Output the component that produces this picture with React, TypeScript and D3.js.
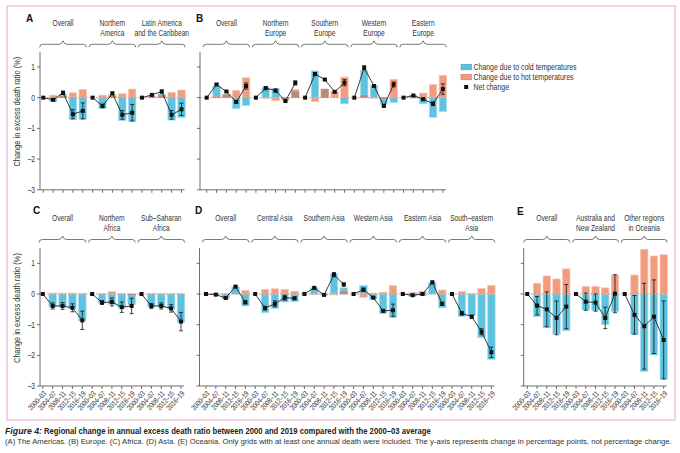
import React, { useLayoutEffect, useRef, useState } from "react";
import * as d3 from "d3";

const periods = ["2000–03", "2004–07", "2008–11", "2012–15", "2016–19"];
const yTicks = [1, 0, -1, -2, -3];

// (A) The Americas
const americasGroups = [["Overall"], ["Northern", "America"], ["Latin America", "and the Caribbean"]];
const americasCold = [0, -0.13, 0.12, -0.71, -0.71, 0, -0.35, 0.05, -0.75, -0.78, 0, 0.03, 0.12, -0.73, -0.64];
const americasHot = [0, 0.08, 0.05, 0.16, 0.27, 0, 0.08, 0.09, 0.13, 0.28, 0, 0.06, 0.08, 0.17, 0.25];
const americasNet = [0, -0.07, 0.16, -0.54, -0.43, 0, -0.27, 0.14, -0.56, -0.49, 0, 0.09, 0.2, -0.56, -0.38];
const americasErr = [0, 0.03, 0.05, 0.15, 0.26, 0, 0.06, 0.04, 0.14, 0.27, 0, 0.03, 0.05, 0.14, 0.2];

// (B) Europe
const europeGroups = [["Overall"], ["Northern", "Europe"], ["Southern", "Europe"], ["Western", "Europe"], ["Eastern", "Europe"]];
const europeCold = [0, 0.38, 0.1, -0.36, -0.25, 0, 0.34, 0.3, -0.03, 0.2, 0, 0.87, 0.28, 0.0, -0.2, 0, 0.88, 0.41, -0.22, -0.16, 0, -0.01, -0.2, -0.64, -0.45];
const europeHot = [0, 0.04, 0.1, 0.24, 0.65, 0, -0.02, -0.1, -0.08, 0.27, 0, -0.13, 0.28, 0.2, 0.67, 0, 0.08, -0.02, -0.05, 0.6, 0, 0.08, 0.15, 0.43, 0.73];
const europeNet = [0, 0.43, 0.2, -0.14, 0.38, 0, 0.31, 0.23, -0.11, 0.48, 0, 0.77, 0.59, 0.19, 0.49, 0, 0.97, 0.38, -0.27, 0.43, 0, 0.07, -0.05, -0.2, 0.28];
const europeErr = [0, 0.03, 0.03, 0.04, 0.1, 0, 0.05, 0.05, 0.03, 0.07, 0, 0.05, 0.03, 0.03, 0.1, 0, 0.07, 0.04, 0.03, 0.08, 0, 0.02, 0.03, 0.06, 0.17];

// (C) Africa
const africaGroups = [["Overall"], ["Northern", "Africa"], ["Sub–Saharan", "Africa"]];
const africaCold = [0, -0.42, -0.42, -0.48, -0.88, 0, -0.3, -0.34, -0.45, -0.35, 0, -0.42, -0.42, -0.49, -0.93];
const africaHot = [0, 0.03, 0.03, 0.03, 0.02, 0, 0.01, 0.08, 0.02, -0.05, 0, 0.02, 0.02, 0.02, 0.02];
const africaNet = [0, -0.39, -0.39, -0.45, -0.86, 0, -0.28, -0.26, -0.43, -0.39, 0, -0.39, -0.39, -0.47, -0.9];
const africaErr = [0, 0.1, 0.11, 0.13, 0.3, 0, 0.06, 0.13, 0.17, 0.25, 0, 0.08, 0.1, 0.12, 0.3];

// (D) Asia
const asiaGroups = [["Overall"], ["Central Asia"], ["Southern Asia"], ["Western Asia"], ["Eastern Asia"], ["South–eastern", "Asia"]];
const asiaCold = [0, -0.02, -0.15, 0.23, -0.39, 0, -0.61, -0.47, -0.26, -0.25, 0, 0.2, -0.04, 0.66, 0.2, 0, 0.28, -0.17, -0.64, -0.77, 0, -0.08, -0.05, 0.37, -0.45, 0, -0.74, -0.71, -1.42, -2.13];
const asiaHot = [0, 0.01, 0.02, 0.02, 0.12, 0, 0.15, 0.17, 0.15, 0.09, 0, -0.02, 0.01, -0.03, 0.1, 0, -0.11, 0.03, 0.06, 0.27, 0, 0.06, 0.09, 0.0, 0.13, 0, 0.08, 0.01, 0.18, 0.28];
const asiaNet = [0, -0.02, -0.13, 0.24, -0.27, 0, -0.46, -0.32, -0.12, -0.14, 0, 0.2, -0.03, 0.63, 0.31, 0, 0.14, -0.12, -0.55, -0.53, 0, -0.04, 0.0, 0.38, -0.32, 0, -0.63, -0.74, -1.23, -1.9];
const asiaErr = [0, 0.01, 0.02, 0.03, 0.05, 0, 0.06, 0.1, 0.08, 0.04, 0, 0.02, 0.02, 0.07, 0.05, 0, 0.05, 0.02, 0.03, 0.2, 0, 0.02, 0.02, 0.04, 0.05, 0, 0.05, 0.05, 0.1, 0.17];

// (E) Oceania
const oceaniaGroups = [["Overall"], ["Australia and", "New Zealand"], ["Other regions", "in Oceania"]];
const oceaniaCold = [0, -0.74, -1.1, -1.31, -1.2, 0, -0.52, -0.54, -0.99, -0.58, 0, -1.32, -2.53, -1.99, -2.78];
const oceaniaHot = [0, 0.35, 0.59, 0.49, 0.82, 0, 0.25, 0.25, 0.2, 0.62, 0, 0.62, 1.46, 1.24, 1.28];
const oceaniaNet = [0, -0.38, -0.5, -0.78, -0.41, 0, -0.25, -0.28, -0.78, 0.01, 0, -0.68, -1.05, -0.74, -1.5];
const oceaniaErr = [0, 0.3, 0.57, 0.55, 0.72, 0, 0.28, 0.28, 0.35, 0.62, 0, 0.63, 1.4, 1.2, 1.27];

const legendLabels = ["Change due to cold temperatures", "Change due to hot temperatures", "Net change"];
const captionTitle = "Figure 4:";
const captionLine1 = "Regional change in annual excess death ratio between 2000 and 2019 compared with the 2000–03 average";
const captionLine2 = "(A) The Americas. (B) Europe. (C) Africa. (D) Asia. (E) Oceania. Only grids with at least one annual death were included. The y-axis represents change in percentage points, not percentage change.";
const yTitle = "Change in excess death ratio (%)";

const COLD = "#5dc3df";
const COLD_EDGE = "#a9dcec";
const HOT = "#f39b7f";
const HOT_EDGE = "#f8c6b5";
const BOTH = "#b88c78";
const AXIS = "#4a4a4a";
const FONT = "'Liberation Sans', Arial, sans-serif";
const SX = 0.8; // horizontal compression to mimic a condensed face

type TProps = {
  x: number; y: number; size: number; anchor?: "start" | "middle" | "end";
  rotate?: number; weight?: string; italic?: boolean; fill?: string; children: React.ReactNode; sx?: number;
};

function T({ x, y, size, anchor = "start", rotate = 0, weight = "normal", italic = false, fill = "#333", children, sx = SX }: TProps) {
  return (
    <text
      transform={`translate(${x},${y}) rotate(${rotate}) scale(${sx},1)`}
      textAnchor={anchor}
      dy="0.35em"
      fontFamily={FONT}
      fontSize={size}
      fontWeight={weight}
      fontStyle={italic ? "italic" : "normal"}
      fill={fill}
    >
      {children}
    </text>
  );
}

// text squeezed horizontally to a target width (measured after layout)
function FitText({ x, y, size, width, weight = "normal", italic = false, fill = "#333", children }: {
  x: number; y: number; size: number; width: number; weight?: string; italic?: boolean; fill?: string; children: string;
}) {
  const ref = useRef<SVGTextElement>(null);
  const [s, setS] = useState(SX);
  useLayoutEffect(() => {
    if (ref.current) {
      const len = ref.current.getComputedTextLength();
      if (len > 0) setS(width / len);
    }
  }, [width, children]);
  return (
    <text ref={ref} transform={`translate(${x},${y}) scale(${s},1)`} dy="0.35em" fontFamily={FONT} fontSize={size}
      fontWeight={weight} fontStyle={italic ? "italic" : "normal"} fill={fill}>{children}</text>
  );
}

type Cfg = {
  letter: string; letterX: number; letterY: number;
  axisX: number; firstX: number; lastX: number;
  yTop: number; yBottom: number; labelY: number; braceY: number;
  yLabels: boolean; xLabels: boolean;
  groups: string[][]; cold: number[]; hot: number[]; net: number[]; err: number[];
};

const panels: Cfg[] = [
  { letter: "A", letterX: 26, letterY: 18, axisX: 40, firstX: 43.3, lastX: 181.5, yTop: 51.6, yBottom: 189.8, labelY: 23.5, braceY: 44.3, yLabels: true, xLabels: false,
    groups: americasGroups, cold: americasCold, hot: americasHot, net: americasNet, err: americasErr },
  { letter: "B", letterX: 196, letterY: 18, axisX: 200, firstX: 206.7, lastX: 442.9, yTop: 51.6, yBottom: 189.8, labelY: 23.5, braceY: 44.3, yLabels: false, xLabels: false,
    groups: europeGroups, cold: europeCold, hot: europeHot, net: europeNet, err: europeErr },
  { letter: "C", letterX: 33, letterY: 210, axisX: 40, firstX: 42.8, lastX: 181, yTop: 248, yBottom: 386, labelY: 218.5, braceY: 239.5, yLabels: true, xLabels: true,
    groups: africaGroups, cold: africaCold, hot: africaHot, net: africaNet, err: africaErr },
  { letter: "D", letterX: 195, letterY: 210, axisX: 199.5, firstX: 206, lastX: 491.4, yTop: 248, yBottom: 386, labelY: 218.5, braceY: 239.5, yLabels: false, xLabels: true,
    groups: asiaGroups, cold: asiaCold, hot: asiaHot, net: asiaNet, err: asiaErr },
  { letter: "E", letterX: 517, letterY: 211, axisX: 523.7, firstX: 527.3, lastX: 663.7, yTop: 248, yBottom: 386, labelY: 218.5, braceY: 239.5, yLabels: false, xLabels: true,
    groups: oceaniaGroups, cold: oceaniaCold, hot: oceaniaHot, net: oceaniaNet, err: oceaniaErr },
];

function bracePath(x0: number, x1: number, y: number) {
  const xm = (x0 + x1) / 2;
  return `M${x0},${y + 3} Q${x0},${y} ${x0 + 3},${y} L${xm - 4},${y} Q${xm - 1},${y} ${xm},${y - 3.5} Q${xm + 1},${y} ${xm + 4},${y} L${x1 - 3},${y} Q${x1},${y} ${x1},${y + 3}`;
}

function Panel({ c }: { c: Cfg }) {
  const n = c.cold.length;
  const x = d3.scaleLinear().domain([0, n - 1]).range([c.firstX, c.lastX]);
  const y = d3.scaleLinear().domain([-3, 1.5]).range([c.yBottom, c.yTop]);
  const step = (c.lastX - c.firstX) / (n - 1);
  const bw = step * 0.76;
  const per = periods.length;
  const xEnd = c.lastX + 3;

  const bars: React.ReactNode[] = [];
  c.cold.forEach((cv, i) => {
    const hv = c.hot[i];
    const x0 = x(i) - bw / 2;
    if (cv !== 0) bars.push(<rect key={`c${i}`} x={x0} width={bw} y={y(Math.max(0, cv))} height={Math.abs(y(cv) - y(0))} fill={COLD} stroke={COLD_EDGE} strokeWidth={0.7} />);
    if (hv !== 0) bars.push(<rect key={`h${i}`} x={x0} width={bw} y={y(Math.max(0, hv))} height={Math.abs(y(hv) - y(0))} fill={HOT} stroke={HOT_EDGE} strokeWidth={0.7} />);
    if (cv * hv > 0) {
      const ov = Math.sign(cv) * Math.min(Math.abs(cv), Math.abs(hv));
      bars.push(<rect key={`b${i}`} x={x0} width={bw} y={y(Math.max(0, ov))} height={Math.abs(y(ov) - y(0))} fill={BOTH} />);
    }
  });

  return (
    <g>
      <text x={c.letterX} y={c.letterY} dy="0.35em" fontFamily={FONT} fontWeight="bold" fontSize={10} fill="#111">{c.letter}</text>
      {c.groups.map((g, gi) => {
        const x0 = x(gi * per) - 3.6;
        const x1 = x(gi * per + per - 1) + 3.6;
        const xm = (x0 + x1) / 2;
        return (
          <g key={gi}>
            {g.map((t, li) => (
              <T key={li} x={xm} y={c.labelY + li * 10} size={8.3} anchor="middle">{t}</T>
            ))}
            <path d={bracePath(x0, x1, c.braceY)} fill="none" stroke="#555" strokeWidth={0.8} />
          </g>
        );
      })}
      {bars}
      <line x1={c.axisX} x2={xEnd} y1={y(0)} y2={y(0)} stroke="#9a9a9a" strokeWidth={0.8} strokeDasharray="2,1.5" />
      {/* y axis */}
      <line x1={c.axisX} x2={c.axisX} y1={y(1.5)} y2={y(-3)} stroke={AXIS} strokeWidth={0.8} />
      {yTicks.map((t) => (
        <g key={t}>
          <line x1={c.axisX - 3} x2={c.axisX} y1={y(t)} y2={y(t)} stroke={AXIS} strokeWidth={0.8} />
          {c.yLabels && (
            <T x={c.axisX - 5} y={y(t)} size={8.3} anchor="end">{t < 0 ? `–${Math.abs(t)}` : `${t}`}</T>
          )}
        </g>
      ))}
      {c.yLabels && (
        <T x={17} y={(c.yTop + c.yBottom) / 2 - 9} size={9.3} anchor="middle" rotate={-90}>{yTitle}</T>
      )}
      {/* x axis */}
      <line x1={c.axisX} x2={xEnd} y1={y(-3)} y2={y(-3)} stroke={AXIS} strokeWidth={0.8} />
      {d3.range(n).map((i) => (
        <g key={i}>
          <line x1={x(i)} x2={x(i)} y1={y(-3)} y2={y(-3) + 3} stroke={AXIS} strokeWidth={0.8} />
          {c.xLabels && (
            <T x={x(i) + 2} y={y(-3) + 6} size={7.4} anchor="end" rotate={-48}>{periods[i % per]}</T>
          )}
        </g>
      ))}
      {/* net change */}
      {c.groups.map((_, gi) => {
        const idx = d3.range(gi * per, gi * per + per);
        const pts = idx.map((i) => [x(i), y(c.net[i])] as [number, number]);
        return <path key={`l${gi}`} d={d3.line()(pts) || ""} fill="none" stroke="#222" strokeWidth={0.9} />;
      })}
      {c.net.map((v, i) => {
        const e = c.err[i];
        return (
          <g key={`n${i}`}>
            {e > 0 && (
              <g stroke="#111" strokeWidth={0.8}>
                <line x1={x(i)} x2={x(i)} y1={y(v - e)} y2={y(v + e)} />
                <line x1={x(i) - 2} x2={x(i) + 2} y1={y(v - e)} y2={y(v - e)} />
                <line x1={x(i) - 2} x2={x(i) + 2} y1={y(v + e)} y2={y(v + e)} />
              </g>
            )}
            <rect x={x(i) - 2} y={y(v) - 2} width={4} height={4} fill="#111" />
          </g>
        );
      })}
    </g>
  );
}

export default function App() {
  return (
    <svg width={680} height={453} style={{ position: "absolute", left: 0, top: 0, background: "#fff" }} xmlns="http://www.w3.org/2000/svg">
      <rect x={0} y={0} width={680} height={453} fill="#fff" />
      <rect x={7} y={6} width={668} height={414} fill="none" stroke="#e7a7c1" strokeWidth={1} />
      {panels.map((p) => <Panel key={p.letter} c={p} />)}
      {/* legend */}
      <rect x={461} y={64.3} width={10.5} height={5.5} fill={COLD} stroke="#3a9fbf" strokeWidth={0.6} />
      <T x={473.5} y={67} size={8.7}>{legendLabels[0]}</T>
      <rect x={461} y={74.3} width={10.5} height={5.5} fill={HOT} stroke="#d07358" strokeWidth={0.6} />
      <T x={473.5} y={77} size={8.7}>{legendLabels[1]}</T>
      <rect x={464.2} y={85} width={4} height={4} fill="#111" />
      <T x={473.5} y={87} size={8.7}>{legendLabels[2]}</T>
      {/* caption */}
      <FitText x={5} y={431} size={9} width={37} weight="bold" italic fill="#222">{captionTitle}</FitText>
      <FitText x={44} y={431} size={9} width={386} weight="bold" fill="#222">{captionLine1}</FitText>
      <FitText x={5} y={441.5} size={8} width={667}>{captionLine2}</FitText>
    </svg>
  );
}
